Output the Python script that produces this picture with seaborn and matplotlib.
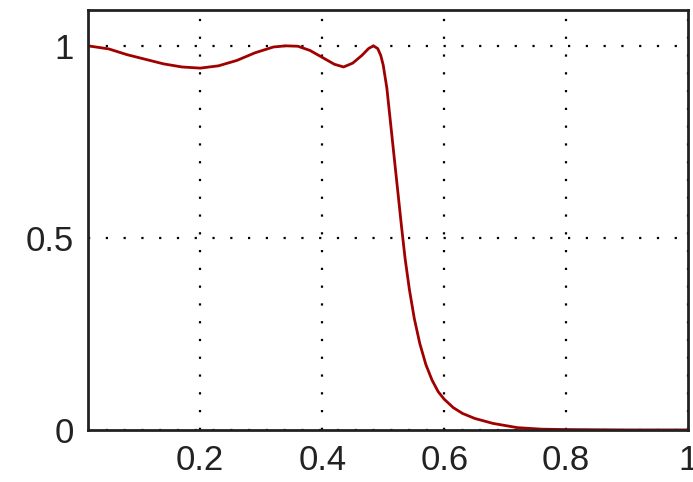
import numpy as np
import pandas as pd
import seaborn as sns
import matplotlib.pyplot as plt

# curve
freq = [0.016, 0.05, 0.08, 0.11, 0.14, 0.17, 0.2, 0.23, 0.26, 0.29, 0.32, 0.34,
        0.36, 0.38, 0.40, 0.42, 0.435, 0.45, 0.465, 0.476, 0.484, 0.491, 0.496,
        0.50, 0.506, 0.512, 0.518, 0.524, 0.530, 0.536, 0.543, 0.551, 0.56,
        0.57, 0.58, 0.59, 0.60, 0.615, 0.63, 0.65, 0.68, 0.72, 0.76, 0.8, 0.9, 1.0]
gain = [1.0, 0.992, 0.977, 0.965, 0.953, 0.945, 0.942, 0.948, 0.962, 0.982, 0.997, 1.0,
        0.999, 0.988, 0.970, 0.952, 0.945, 0.955, 0.975, 0.993, 1.0, 0.993, 0.975,
        0.950, 0.89, 0.80, 0.71, 0.62, 0.53, 0.445, 0.365, 0.29, 0.225,
        0.17, 0.13, 0.10, 0.08, 0.058, 0.043, 0.03, 0.017, 0.006, 0.002, 0.001, 0.0, 0.0]

xticks = [0.2, 0.4, 0.6, 0.8, 1.0]
xtick_labels = ["0.2", "0.4", "0.6", "0.8", "1"]
yticks = [0, 0.5, 1]
ytick_labels = ["0", "0.5", "1"]


def main():
    sns.set_style("white")
    plt.rcParams['font.family'] = ['Liberation Sans', 'DejaVu Sans']

    df = pd.DataFrame({"f": freq, "g": gain})

    fig = plt.figure(figsize=(6.93, 4.82), dpi=100)
    ax = fig.add_axes([0.127, 0.108, 0.866, 0.871])
    sns.lineplot(data=df, x="f", y="g", color="#a00000", linewidth=2, ax=ax)

    ax.set_xlim(0.016, 1.0)
    ax.set_ylim(0, 1.093)
    ax.set_xticks(xticks)
    ax.set_xticklabels(xtick_labels)
    ax.set_yticks(yticks)
    ax.set_yticklabels(ytick_labels)
    ax.set_xlabel("")
    ax.set_ylabel("")

    ax.grid(True, color="black", linestyle=(0, (1, 7)), linewidth=1.6)
    ax.tick_params(direction="in", length=5, width=1.2, labelsize=25,
                   colors="#222222", pad=10)
    for s in ax.spines.values():
        s.set_color("#222222")
        s.set_linewidth(2)

    fig.savefig("out.png", dpi=100)


if __name__ == "__main__":
    main()
